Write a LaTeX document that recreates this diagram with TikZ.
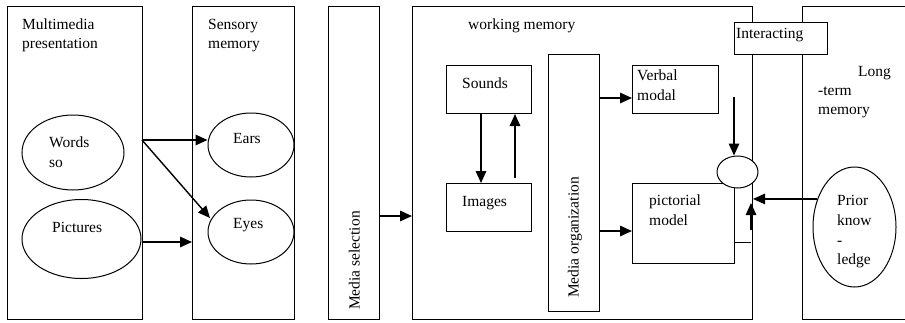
\documentclass[tikz,border=0pt]{standalone}
\usepackage{fontspec}
\setmainfont{Liberation Serif}
\usetikzlibrary{shapes.geometric,arrows.meta}
\tikzset{
  box/.style={draw, line width=1pt, inner sep=0pt, anchor=north west},
  oval/.style={draw, ellipse, line width=1pt, inner sep=0pt},
  txt/.style={inner sep=0pt, anchor=base west, font=\fontsize{15.5}{19}\selectfont},
  arr/.style={line width=1.4pt, -{Triangle[length=12pt,width=10.5pt]}},
  thin line/.style={line width=1pt},
}
\begin{document}
\begin{tikzpicture}[x=1pt,y=-1pt]
\useasboundingbox (0,0) rectangle (905,322);
\clip (0,0) rectangle (905,322);
% big columns
\node[box, minimum width=135pt, minimum height=313pt] (mp) at (7,6) {};
\node[box, minimum width=102pt, minimum height=313pt] (sm) at (192,6) {};
\node[box, minimum width=51pt, minimum height=313pt] (ms) at (328,6) {};
\node[box, minimum width=340pt, minimum height=313pt] (wm) at (412,6) {};
\node[box, minimum width=140pt, minimum height=313pt] (lt) at (802,6) {};
% inner boxes
\node[box, minimum width=85pt, minimum height=48pt] (sounds) at (446,65) {};
\node[box, minimum width=85pt, minimum height=48pt] (images) at (446,183) {};
\node[box, minimum width=51pt, minimum height=257pt] (mo) at (548,54) {};
\node[box, minimum width=86pt, minimum height=48pt] (verbal) at (632,65) {};
\node[box, minimum width=102pt, minimum height=80pt] (pict) at (632,183) {};
\node[box, fill=white, minimum width=93pt, minimum height=32pt] (inter) at (734,22) {};
% ellipses
\node[oval, minimum width=102pt, minimum height=75pt] (words) at (73,152.5) {};
\node[oval, minimum width=119pt, minimum height=79pt] (pics) at (81.5,239) {};
\node[oval, minimum width=86pt, minimum height=64pt] (ears) at (251,145) {};
\node[oval, minimum width=86pt, minimum height=64pt] (eyes) at (251,232) {};
\node[oval, fill=white, minimum width=41pt, minimum height=32pt] (join) at (737.5,172) {};
\node[oval, minimum width=83pt, minimum height=120pt] (prior) at (854.5,227) {};
% texts
\node[txt] (t1) at (22,29) {Multimedia};
\node[txt] (t2) at (22,48) {presentation};
\node[txt] (t3) at (208,29) {Sensory};
\node[txt] (t4) at (208,48) {memory};
\node[txt] (t5) at (49,147) {Words};
\node[txt] (t6) at (49,167) {so};
\node[txt] (t7) at (52,232) {Pictures};
\node[txt] (t8) at (233,143) {Ears};
\node[txt] (t9) at (233,228) {Eyes};
\node[txt, rotate=90] (t10) at (359.5,310) {Media selection};
\node[txt] (t11) at (468,29) {working memory};
\node[txt] (t12) at (462,88) {Sounds};
\node[txt] (t13) at (462,206) {Images};
\node[txt, rotate=90] (t14) at (578.5,298) {Media organization};
\node[txt] (t15) at (637,80) {Verbal};
\node[txt] (t16) at (637,100) {modal};
\node[txt] (t17) at (736,38) {Interacting};
\node[txt] (t18) at (649,205) {pictorial};
\node[txt] (t19) at (649,225) {model};
\node[txt] (t20) at (858,76) {Long};
\node[txt] (t21) at (818,95) {-term};
\node[txt] (t22) at (818,114) {memory};
\node[txt] (t23) at (837,205) {Prior};
\node[txt] (t24) at (837,225) {know};
\node[txt] (t25) at (837,245) {-};
\node[txt] (t26) at (837,264) {ledge};
% connectors
\coordinate (w1) at (142,140);
\coordinate (e1) at (210,218);
\coordinate (p1) at (142,242);
\coordinate (s1) at (379,216);
\draw[arr] (w1) -- (w1 -| ears.west);
\draw[arr] (w1) -- (e1);
\draw[arr] (p1) -- (p1 -| sm.west);
\draw[arr] (s1) -- (s1 -| wm.west);
\draw[arr] ([xshift=-8pt]sounds.south) -- ([xshift=-8pt]images.north);
\draw[arr] ([xshift=26pt,yshift=5pt]images.north) -- ([xshift=26pt]sounds.south);
\coordinate (m1) at (599,98);
\coordinate (m2) at (599,231);
\draw[arr] (m1) -- (m1 -| verbal.west);
\draw[arr] (m2) -- (m2 -| pict.west);
\coordinate (d1) at (734,97);
\draw[arr] (d1) -- (d1 |- join.north);
\coordinate (q1) at (751,242);
\coordinate (q3) at (751,230);
\coordinate (q2) at (751,203);
\draw[thin line] (pict.east |- q1) -- (q1);
\draw[arr] (q3) -- (q2);
\draw[arr] (prior.143) -- (prior.143 -| wm.east);
\end{tikzpicture}
\end{document}
